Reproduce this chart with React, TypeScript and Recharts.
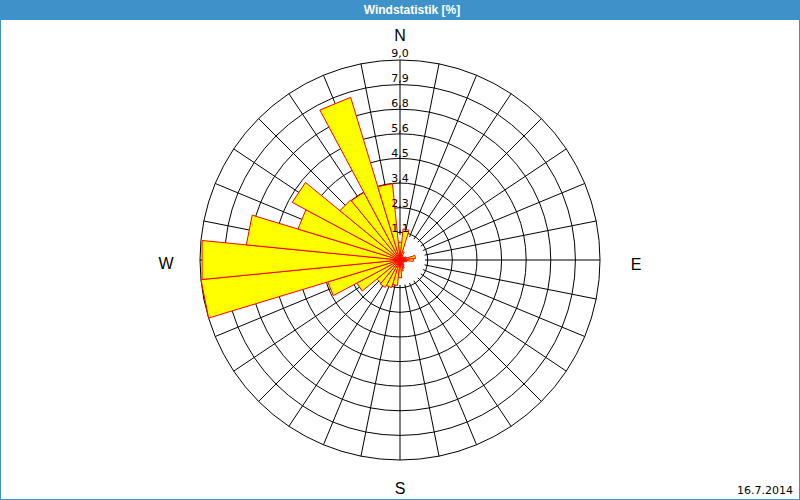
import { RadarChart, Radar, PolarGrid, PolarAngleAxis, PolarRadiusAxis } from 'recharts'

// 32 compass sectors, clockwise from north, values in %
const SECTORS = [
  'N', 'NbE', 'NNE', 'NEbN', 'NE', 'NEbE', 'ENE', 'EbN',
  'E', 'EbS', 'ESE', 'SEbE', 'SE', 'SEbS', 'SSE', 'SbE',
  'S', 'SbW', 'SSW', 'SWbS', 'SW', 'SWbW', 'WSW', 'WbS',
  'W', 'WbN', 'WNW', 'NWbW', 'NW', 'NWbN', 'NNW', 'NbW',
]
const FREQUENCY = [
  0.8, 1.4, 0.4, 0.2, 0.2, 0.2, 0.3, 0.7,
  0.6, 0.3, 0.2, 0.2, 0.2, 0.3, 0.4, 0.5,
  0.8, 1.15, 1.3, 1.4, 1.35, 2.2, 3.4, 9.0,
  8.95, 6.95, 4.8, 5.5, 3.5, 3.45, 7.65, 3.45,
]
const RING_TICKS = [1.125, 2.25, 3.375, 4.5, 5.625, 6.75, 7.875, 9]
const COMPASS_LABELS = ['N', 'E', 'S', 'W']
const MAX_VALUE = 9
const DATE_LABEL = '16.7.2014'

const BLUE = '#3e91c9'
const SECTOR_WIDTH = 360 / SECTORS.length

// grid layer: one row per direction, the outer ring is only there to span the scale
const gridData = SECTORS.map((dir) => ({ dir, ring: MAX_VALUE }))

// one row per sector edge; every sector is its own radar (a triangle from the centre)
const edgeData = SECTORS.map((_, j) => {
  const row: Record<string, any> = { edge: `e${j}` }
  SECTORS.forEach((__, k) => {
    row[`s${k}`] = 0
  })
  const prev = (j - 1 + SECTORS.length) % SECTORS.length
  row[`s${j}`] = FREQUENCY[j]
  row[`s${prev}`] = FREQUENCY[prev]
  return row
})

const fmt = (v: number) => v.toFixed(1).replace('.', ',')

const RingTick = ({ x, y, payload }: any) => (
  <text x={x} y={y - 3} textAnchor="middle" fontSize={11} fontFamily="DejaVu Sans, Verdana" fill="#000">
    {fmt(payload.value)}
  </text>
)

const COMPASS_OFFSET: Record<string, [number, number]> = {
  N: [0, -11],
  E: [28, 10],
  S: [0, 26],
  W: [-26, 9],
}

const CompassTick = ({ x, y, payload }: any) => {
  const label = payload.value
  if (!COMPASS_LABELS.includes(label)) return <g />
  const [dx, dy] = COMPASS_OFFSET[label]
  return (
    <text x={x + dx} y={y + dy} textAnchor="middle" fontSize={16} fontFamily="Liberation Sans, Arial" fill="#000">
      {label}
    </text>
  )
}

const chartProps = {
  width: 800,
  height: 500,
  cx: 400,
  cy: 260,
  outerRadius: 200,
  margin: { top: 0, right: 0, bottom: 0, left: 0 },
}

export default function App() {
  return (
    <div style={{ position: 'absolute', left: 0, top: 0, width: 800, height: 500, background: '#fff' }}>
      <div
        style={{
          position: 'absolute',
          left: 0,
          top: 0,
          width: 800,
          height: 20,
          background: BLUE,
          color: '#fff',
          fontFamily: 'Liberation Sans, Arial',
          fontWeight: 'bold',
          fontSize: 12,
          lineHeight: '20px',
          textAlign: 'center',
          paddingLeft: 24,
          boxSizing: 'border-box',
        }}
      >
        Windstatistik [%]
      </div>
      <div
        style={{
          position: 'absolute',
          left: 0,
          top: 20,
          width: 800,
          height: 480,
          boxSizing: 'border-box',
          border: `1px solid ${BLUE}`,
          borderTop: 'none',
        }}
      />

      {/* grid layer */}
      <div style={{ position: 'absolute', left: 0, top: 0 }}>
        <RadarChart {...chartProps} data={gridData} innerRadius={25} startAngle={90} endAngle={-270}>
          <PolarGrid gridType="circle" stroke="#000" strokeWidth={1} />
          <PolarAngleAxis dataKey="dir" tick={<CompassTick />} tickLine={false} axisLine={false} />
          <PolarRadiusAxis
            type="number"
            domain={[RING_TICKS[0], MAX_VALUE]}
            ticks={RING_TICKS}
            tick={false}
            axisLine={false}
            allowDataOverflow
          />
          <Radar dataKey="ring" fill="none" stroke="none" dot={false} isAnimationActive={false} />
        </RadarChart>
      </div>

      {/* sector layer */}
      <div style={{ position: 'absolute', left: 0, top: 0 }}>
        <RadarChart
          {...chartProps}
          data={edgeData}
          innerRadius={0}
          startAngle={90 + SECTOR_WIDTH / 2}
          endAngle={90 + SECTOR_WIDTH / 2 - 360}
        >
          <PolarAngleAxis dataKey="edge" tick={false} tickLine={false} axisLine={false} />
          {SECTORS.map((dir, k) => (
            <Radar
              key={dir}
              dataKey={`s${k}`}
              fill="#ffff00"
              fillOpacity={1}
              stroke="#ff0000"
              strokeWidth={1}
              dot={false}
              isAnimationActive={false}
            />
          ))}
          <PolarRadiusAxis
            type="number"
            angle={90}
            domain={[0, MAX_VALUE]}
            ticks={RING_TICKS}
            tick={<RingTick />}
            axisLine={false}
          />
        </RadarChart>
      </div>

      <div
        style={{
          position: 'absolute',
          right: 7,
          top: 485,
          fontFamily: 'DejaVu Sans, Verdana',
          fontSize: 11,
          lineHeight: '12px',
          color: '#000',
        }}
      >
        {DATE_LABEL}
      </div>
    </div>
  )
}
